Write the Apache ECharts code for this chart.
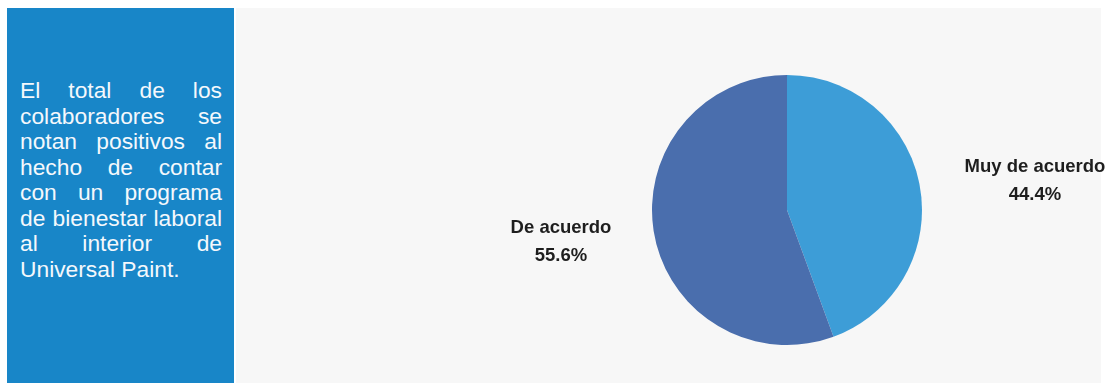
<!DOCTYPE html>
<html>
<head>
<meta charset="utf-8">
<script src="https://cdn.jsdelivr.net/npm/echarts@6/dist/echarts.min.js"></script>
<style>
  html, body { margin: 0; padding: 0; background: #ffffff; width: 1113px; height: 383px; overflow: hidden; }
  #note {
    position: absolute; left: 7px; top: 8px; width: 227px; height: 375px;
    background: #1886c8; color: #f4f8fc;
    font-family: "Liberation Sans", Arial, sans-serif; font-size: 22.8px;
  }
  #note .body { position: absolute; left: 13px; top: 70px; width: 202px; }
  #note .ln { line-height: 25.5px; height: 25.5px; white-space: nowrap; text-align: justify; text-align-last: justify; }
  #note .ln.last { text-align-last: left; }
  #panel { position: absolute; left: 236px; top: 8px; width: 865px; height: 375px; background: #f7f7f7; }
  #chart { position: absolute; left: 236px; top: 8px; width: 877px; height: 375px; }
</style>
</head>
<body>
<div id="note"><div class="body" id="noteBody"></div></div>
<div id="panel"></div>
<div id="chart"></div>
<script>
// Summary text shown in the side panel, one entry per line
const noteLines = [
  'El total de los',
  'colaboradores se',
  'notan positivos al',
  'hecho de contar',
  'con un programa',
  'de bienestar laboral',
  'al interior de',
  'Universal Paint.'
];

// Pie data (percent of collaborators)
const categories = ['Muy de acuerdo', 'De acuerdo'];
const shares = [44.4, 55.6];
const colors = ['#3d9dd7', '#4a6ead'];

const body = document.getElementById('noteBody');
noteLines.forEach((t, i) => {
  const d = document.createElement('div');
  d.className = 'ln' + (i === noteLines.length - 1 ? ' last' : '');
  d.textContent = t;
  body.appendChild(d);
});

// Label anchor points inside the chart area
const labelSpots = [[799, 173], [325, 234]];

const chart = echarts.init(document.getElementById('chart'), null, { renderer: 'canvas' });
chart.setOption({
  animation: false,
  backgroundColor: 'transparent',
  series: [{
    type: 'pie',
    center: [551, 202],
    radius: 135,
    startAngle: 90,
    clockwise: true,
    data: categories.map((name, i) => ({ name, value: shares[i], itemStyle: { color: colors[i] } })),
    label: {
      show: true,
      position: 'outside',
      formatter: p => p.name + '\n' + p.value.toFixed(1) + '%',
      color: '#1e1e1e',
      fontFamily: '"Liberation Sans", Arial, sans-serif',
      fontWeight: 'bold',
      fontSize: 18.5,
      lineHeight: 28,
      align: 'center',
      overflow: 'none',
      width: 200
    },
    labelLine: { show: false },
    labelLayout: p => ({
      x: labelSpots[p.dataIndex][0],
      y: labelSpots[p.dataIndex][1],
      align: 'center',
      verticalAlign: 'middle'
    }),
    emphasis: { disabled: true }
  }]
});
</script>
</body>
</html>
